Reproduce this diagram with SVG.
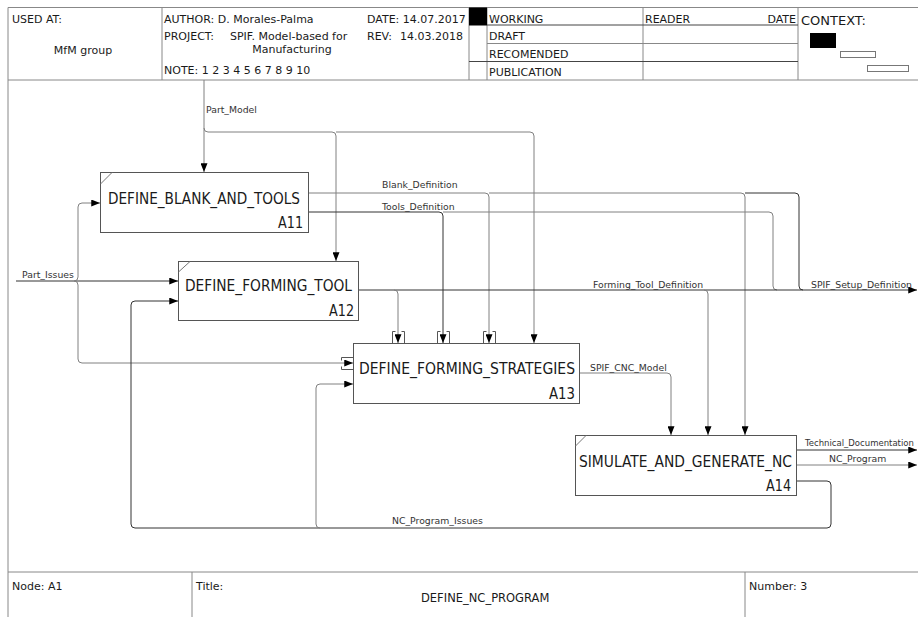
<svg xmlns="http://www.w3.org/2000/svg" width="918" height="617" viewBox="0 0 918 617">
<style>
text{font-family:"DejaVu Sans","Liberation Sans",sans-serif;fill:#1a1a1a}
.h{font-size:11px}
.lbl{font-size:9.3px;fill:#333}
.bt{font-size:16px}
.frame{fill:none;stroke:#888;stroke-width:1}
.frame2{fill:none;stroke:#444;stroke-width:1}
.box{fill:#fff;stroke:#555;stroke-width:1}
.diag{stroke:#777;stroke-width:1}
.c1{fill:none;stroke:#333;stroke-width:1}
.c2{fill:none;stroke:#808080;stroke-width:1}
.br{fill:none;stroke:#555;stroke-width:1}
</style>
<defs>
<marker id="ah" viewBox="0 0 10 8" refX="10" refY="4" markerWidth="9" markerHeight="7" orient="auto" markerUnits="userSpaceOnUse"><path d="M0,0 L10,4 L0,8 z" fill="#000"/></marker>
</defs>
<rect x="0" y="0" width="918" height="617" fill="#fff"/>

<g id="frame">
<path class="frame" d="M8,617 V7.5 H918 M8,80 H918 M162,7.5 V80 M469,7.5 V80 M487,7.5 V80 M643,7.5 V80 M798,7.5 V80"/>
<path class="frame2" d="M487,25 H798 M469,61.5 H798"/>
<path class="frame" d="M487,43.5 H798"/>
<rect x="469" y="7.5" width="18" height="18" fill="#000"/>
<rect x="810" y="33" width="26" height="15" fill="#000"/>
<rect x="840.5" y="51.5" width="35" height="6" fill="#fff" stroke="#777"/>
<rect x="867.5" y="65.5" width="41" height="6" fill="#fff" stroke="#777"/>
<path class="frame" d="M8,572 H918 M192,572 V617 M745,572 V617"/>
<text class="h" x="12" y="23">USED AT:</text>
<text class="h" x="83" y="54" text-anchor="middle">MfM group</text>
<text class="h" x="164" y="23">AUTHOR: D. Morales-Palma</text>
<text class="h" x="367" y="23">DATE: 14.07.2017</text>
<text class="h" x="164" y="40">PROJECT:</text>
<text class="h" x="230" y="40">SPIF. Model-based for</text>
<text class="h" x="292" y="53" text-anchor="middle">Manufacturing</text>
<text class="h" x="367" y="40">REV:</text>
<text class="h" x="400" y="40">14.03.2018</text>
<text class="h" x="164" y="74">NOTE: 1 2 3 4 5 6 7 8 9 10</text>
<text class="h" x="489" y="23">WORKING</text>
<text class="h" x="489" y="40">DRAFT</text>
<text class="h" x="489" y="58">RECOMENDED</text>
<text class="h" x="489" y="76">PUBLICATION</text>
<text class="h" x="645" y="23">READER</text>
<text class="h" x="796" y="23" text-anchor="end">DATE</text>
<text x="801" y="25" style="font-size:13px">CONTEXT:</text>
<text class="h" x="12" y="590">Node: A1</text>
<text class="h" x="196" y="590">Title:</text>
<text x="421" y="602" style="font-size:11.5px">DEFINE_NC_PROGRAM</text>
<text class="h" x="749" y="590">Number: 3</text>
</g>

<g id="connectors">
<!-- Part_Model -->
<path class="c2" d="M204,80 V172" marker-end="url(#ah)"/>
<path class="c2" d="M204,128 Q204,132 208,132 H332 Q336,132 336,136 V261" marker-end="url(#ah)"/>
<path class="c2" d="M336,132 H530 Q534,132 534,136 V343" marker-end="url(#ah)"/>
<!-- Blank_Definition -->
<path class="c2" d="M308,193 H485 Q489,193 489,197 V343" marker-end="url(#ah)"/>
<path class="c2" d="M489,193 H741 Q745,193 745,197 V435" marker-end="url(#ah)"/>
<path class="c1" d="M745,193 H795 Q799,193 799,197 V286 Q799,290 803,290"/>
<!-- Tools_Definition -->
<path class="c1" d="M308,212 H439 Q443,212 443,216 V343" marker-end="url(#ah)"/>
<path class="c2" d="M443,212 H769 Q773,212 773,216 V286 Q773,290 777,290"/>
<!-- Forming_Tool_Definition / SPIF_Setup_Definition -->
<path class="c1" d="M358,290 H917" marker-end="url(#ah)"/>
<path class="c2" d="M394,290 Q398,290 398,294 V343" marker-end="url(#ah)"/>
<path class="c2" d="M704,290 Q708,290 708,294 V435" marker-end="url(#ah)"/>
<!-- Part_Issues -->
<path class="c1" d="M16,281 H178" marker-end="url(#ah)"/>
<path class="c2" d="M74,281 Q78,281 78,277 V207 Q78,203 82,203 H100" marker-end="url(#ah)"/>
<path class="c2" d="M74,281 Q78,281 78,285 V359 Q78,363 82,363 H353" marker-end="url(#ah)"/>
<!-- SPIF_CNC_Model -->
<path class="c2" d="M579,373 H667 Q671,373 671,377 V435" marker-end="url(#ah)"/>
<!-- outputs A14 -->
<path class="c1" d="M796,450 H917" marker-end="url(#ah)"/>
<path class="c2" d="M796,465 H917" marker-end="url(#ah)"/>
<!-- NC_Program_Issues -->
<path class="c1" d="M796,481 H827 Q831,481 831,485 V524 Q831,528 827,528 H135 Q131,528 131,524 V305 Q131,301 135,301 H178" marker-end="url(#ah)"/>
<path class="c2" d="M320,528 Q316,528 316,524 V388 Q316,384 320,384 H353" marker-end="url(#ah)"/>
<!-- tunnel brackets -->
<path class="br" d="M392.5,343 V331.5 H395.5 M404.5,343 V331.5 H401.5"/>
<path class="br" d="M437.5,343 V331.5 H440.5 M449.5,343 V331.5 H446.5"/>
<path class="br" d="M483.5,343 V331.5 H486.5 M495.5,343 V331.5 H492.5"/>
<path class="br" d="M353,357.5 H341.5 V360.5 M353,369.5 H341.5 V366.5"/>
<!-- labels -->
<text class="lbl" x="206" y="113">Part_Model</text>
<text class="lbl" x="382" y="188">Blank_Definition</text>
<text class="lbl" x="382" y="210">Tools_Definition</text>
<text class="lbl" x="593" y="288">Forming_Tool_Definition</text>
<text class="lbl" x="811" y="288">SPIF_Setup_Definition</text>
<text class="lbl" x="22" y="278">Part_Issues</text>
<text class="lbl" x="590" y="371">SPIF_CNC_Model</text>
<text class="lbl" transform="translate(805,446) scale(0.9,1)" textLength="121" lengthAdjust="spacingAndGlyphs">Technical_Documentation</text>
<text class="lbl" x="829" y="462">NC_Program</text>
<text class="lbl" x="392" y="524">NC_Program_Issues</text>
</g>

<g id="A11">
<rect class="box" x="100.5" y="172.5" width="208" height="60"/>
<line class="diag" x1="100.5" y1="184" x2="112" y2="172.5"/>
<text class="bt" transform="translate(108,204) scale(0.86,1)" textLength="223.3" lengthAdjust="spacingAndGlyphs">DEFINE_BLANK_AND_TOOLS</text>
<text class="bt" transform="translate(278,228) scale(0.86,1)" textLength="29.1" lengthAdjust="spacingAndGlyphs">A11</text>
</g>
<g id="A12">
<rect class="box" x="178.5" y="261.5" width="180" height="59"/>
<line class="diag" x1="178.5" y1="272" x2="190" y2="261.5"/>
<text class="bt" transform="translate(185,291) scale(0.86,1)" textLength="194.2" lengthAdjust="spacingAndGlyphs">DEFINE_FORMING_TOOL</text>
<text class="bt" transform="translate(329,316) scale(0.86,1)" textLength="29.1" lengthAdjust="spacingAndGlyphs">A12</text>
</g>
<g id="A13">
<rect class="box" x="353.5" y="343.5" width="226" height="60"/>
<text class="bt" transform="translate(359,374) scale(0.86,1)" textLength="251.2" lengthAdjust="spacingAndGlyphs">DEFINE_FORMING_STRATEGIES</text>
<text class="bt" transform="translate(549,399) scale(0.86,1)" textLength="30.2" lengthAdjust="spacingAndGlyphs">A13</text>
</g>
<g id="A14">
<rect class="box" x="575.5" y="435.5" width="221" height="60"/>
<line class="diag" x1="575.5" y1="446" x2="586" y2="435.5"/>
<text class="bt" transform="translate(579,467) scale(0.86,1)" textLength="247.7" lengthAdjust="spacingAndGlyphs">SIMULATE_AND_GENERATE_NC</text>
<text class="bt" transform="translate(766,491) scale(0.86,1)" textLength="29.1" lengthAdjust="spacingAndGlyphs">A14</text>
</g>
</svg>
